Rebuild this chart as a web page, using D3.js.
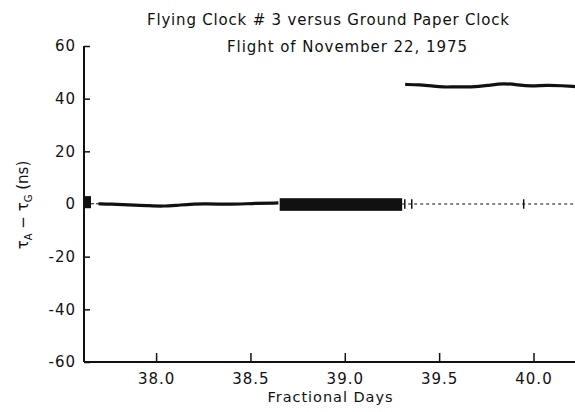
<!DOCTYPE html>
<meta charset="utf-8">
<html>
<head>
<style>
  body { margin: 0; background: #fff; }
  svg text { font-family: "DejaVu Sans", "Liberation Sans", sans-serif; fill: #111; }
</style>
</head>
<body>
<svg width="575" height="412"></svg>
<script src="https://d3js.org/d3.v7.min.js"></script>
<script>
// values
var xTicks = [38.0, 38.5, 39.0, 39.5, 40.0]
var yTicks = [60, 40, 20, 0, -20, -40, -60]

// flying clock on the ground, before the flight
var beforeDays = [37.694, 37.76, 37.853, 37.95, 38.039, 38.118, 38.261, 38.383, 38.505, 38.648]
var beforeNs   = [0.1, 0.0, -0.4, -0.6, -0.9, -0.4, 0.2, -0.2, 0.2, 0.4]

// during the flight (thick black band)
var bandDays = [38.655, 39.304]
var bandNs   = [-2.6, 2.2]

// after landing
var afterDays = [39.32, 39.4, 39.46, 39.52, 39.6, 39.667, 39.76, 39.84, 39.92, 39.985, 40.075, 40.15, 40.22]
var afterNs   = [45.4, 45.3, 44.9, 44.3, 44.6, 44.3, 45.0, 45.9, 45.2, 44.7, 45.2, 44.9, 44.6]

// dotted reference at zero and its small markers
var dottedDays = [39.304, 40.22]
var markerDays = [39.318, 39.355, 39.948]

var svg = d3.select('svg')

var x = d3.scaleLinear().domain([37.618, 40.22]).range([84, 575])
var y = d3.scaleLinear().domain([-60, 60]).range([362, 46])

// axes
var yAxis = d3.axisLeft(y).tickValues(yTicks).tickSize(-6).tickPadding(8)
  .tickFormat(function (d) { return d < 0 ? '-' + Math.abs(d) : d })
var gy = svg.append('g').attr('transform', 'translate(84,0)').call(yAxis)
gy.select('.domain').remove()
gy.append('line').attr('x1', 0).attr('x2', 0).attr('y1', y(60)).attr('y2', y(-60))
  .attr('stroke', '#111').attr('stroke-width', 2)
gy.selectAll('.tick line').attr('stroke', '#111').attr('stroke-width', 1.5)
gy.selectAll('.tick text').attr('font-size', 15).attr('fill', '#111')
  .attr('letter-spacing', 1).attr('font-family', '"DejaVu Sans", sans-serif')

var xAxis = d3.axisBottom(x).tickValues(xTicks).tickSize(-9).tickPadding(11)
  .tickFormat(d3.format('.1f'))
var gx = svg.append('g').attr('transform', 'translate(0,362)').call(xAxis)
gx.select('.domain').remove()
gx.append('line').attr('x1', 84).attr('x2', 575).attr('y1', 0).attr('y2', 0)
  .attr('stroke', '#111').attr('stroke-width', 2)
gx.selectAll('.tick line').attr('stroke', '#111').attr('stroke-width', 1.5)
gx.selectAll('.tick text').attr('font-size', 15).attr('fill', '#111')
  .attr('letter-spacing', 1).attr('font-family', '"DejaVu Sans", sans-serif')

// data
var line = d3.line().x(function (d) { return x(d[0]) }).y(function (d) { return y(d[1]) }).curve(d3.curveBasis)

// small block at the start
svg.append('rect')
  .attr('x', x(37.62)).attr('width', x(37.655) - x(37.62))
  .attr('y', y(3)).attr('height', y(-1.6) - y(3))
  .attr('fill', '#111')
svg.append('line')
  .attr('x1', x(37.655)).attr('x2', x(37.694)).attr('y1', y(0.1)).attr('y2', y(0.1))
  .attr('stroke', '#111').attr('stroke-width', 1.2).attr('stroke-dasharray', '3,2')

svg.append('path')
  .datum(d3.zip(beforeDays, beforeNs))
  .attr('d', line).attr('fill', 'none').attr('stroke', '#111').attr('stroke-width', 3.2)

svg.append('rect')
  .attr('x', x(bandDays[0])).attr('width', x(bandDays[1]) - x(bandDays[0]))
  .attr('y', y(bandNs[1])).attr('height', y(bandNs[0]) - y(bandNs[1]))
  .attr('fill', '#111')

svg.append('line')
  .attr('x1', x(dottedDays[0])).attr('x2', x(dottedDays[1]))
  .attr('y1', y(0)).attr('y2', y(0))
  .attr('stroke', '#111').attr('stroke-width', 1.2).attr('stroke-dasharray', '3,3')

svg.selectAll('.marker').data(markerDays).enter().append('line')
  .attr('class', 'marker')
  .attr('x1', function (d) { return x(d) }).attr('x2', function (d) { return x(d) })
  .attr('y1', y(1.8)).attr('y2', y(-1.8))
  .attr('stroke', '#111').attr('stroke-width', 1.5)

svg.append('path')
  .datum(d3.zip(afterDays, afterNs))
  .attr('d', line).attr('fill', 'none').attr('stroke', '#111').attr('stroke-width', 3.2)

// titles
svg.append('text').attr('x', 328).attr('y', 25).attr('text-anchor', 'middle')
  .attr('font-size', 15).attr('textLength', 362).attr('lengthAdjust', 'spacing')
  .text('Flying Clock # 3 versus Ground Paper Clock')
svg.append('text').attr('x', 347).attr('y', 52).attr('text-anchor', 'middle')
  .attr('font-size', 15).attr('textLength', 240).attr('lengthAdjust', 'spacing')
  .text('Flight of November 22, 1975')
svg.append('text').attr('x', 330).attr('y', 402).attr('text-anchor', 'middle')
  .attr('font-size', 14.5).attr('textLength', 125).attr('lengthAdjust', 'spacing')
  .text('Fractional Days')

var yl = svg.append('text').attr('transform', 'translate(28,205) rotate(-90)')
  .attr('text-anchor', 'middle').attr('font-size', 15)
yl.append('tspan').text('\u03c4')
yl.append('tspan').attr('font-size', 10).attr('dy', 4).text('A')
yl.append('tspan').attr('dy', -4).text(' \u2212 \u03c4')
yl.append('tspan').attr('font-size', 10).attr('dy', 4).text('G')
yl.append('tspan').attr('dy', -4).text(' (ns)')
</script>
</body>
</html>
